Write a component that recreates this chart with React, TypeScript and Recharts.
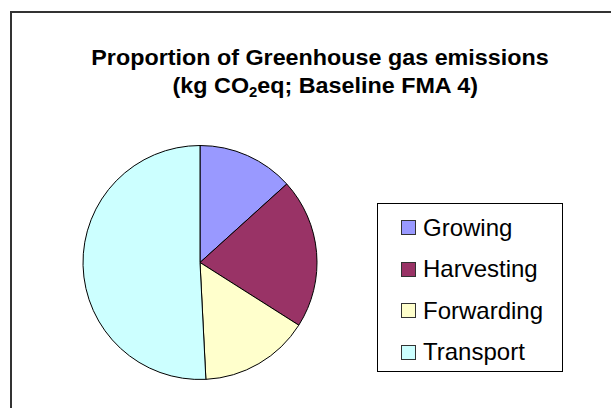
import React from 'react';
import { PieChart, Pie, Cell, Legend } from 'recharts';

const categories = ['Growing', 'Harvesting', 'Forwarding', 'Transport'];
const emissions = [13.3, 20.7, 15.2, 50.8];
const colors = ['#9999FF', '#993366', '#FFFFCC', '#CCFFFF'];

const data = categories.map((name, i) => ({ name, value: emissions[i] }));

const renderLegend = (props: any) => {
  const payload = [...(props.payload || [])].sort(
    (a: any, b: any) => categories.indexOf(a.value) - categories.indexOf(b.value)
  );
  return (
    <div
      style={{
        width: 186,
        height: 169,
        border: '1px solid #000',
        boxSizing: 'border-box',
        paddingTop: 3,
        background: '#fff',
      }}
    >
      {payload.map((entry: any) => (
        <div
          key={entry.value}
          style={{ display: 'flex', alignItems: 'center', height: 41.5, paddingLeft: 23 }}
        >
          <span
            style={{
              display: 'inline-block',
              width: 13,
              height: 13,
              background: entry.color,
              border: '1px solid #333',
              marginRight: 7,
            }}
          />
          <span style={{ fontSize: 24, color: '#000', lineHeight: '28px' }}>{entry.value}</span>
        </div>
      ))}
    </div>
  );
};

const App: React.FC = () => {
  return (
    <div
      style={{
        position: 'absolute',
        left: 0,
        top: 0,
        width: 611,
        height: 408,
        overflow: 'hidden',
        background: '#fff',
        fontFamily: '"Liberation Sans", Arial, sans-serif',
      }}
    >
      <div
        style={{
          position: 'absolute',
          left: 10,
          top: 11,
          width: 620,
          height: 420,
          borderTop: '2px solid #333',
          borderLeft: '2px solid #333',
        }}
      />
      <div
        style={{
          position: 'absolute',
          left: 20,
          width: 600,
          top: 44,
          textAlign: 'center',
          fontWeight: 'bold',
          fontSize: 22,
          lineHeight: '28px',
          color: '#000',
          transform: 'scaleX(1.06)',
          transformOrigin: '300px 0',
        }}
      >
        <div>Proportion of Greenhouse gas emissions</div>
        <div style={{ paddingLeft: 10 }}>
          (kg CO<sub style={{ fontSize: 14, verticalAlign: '-4px' }}>2</sub>eq; Baseline FMA 4)
        </div>
      </div>
      <div style={{ position: 'absolute', left: 0, top: 0 }}>
        <PieChart width={611} height={408} margin={{ top: 0, right: 0, bottom: 0, left: 0 }}>
          <Pie
            data={data}
            dataKey="value"
            nameKey="name"
            cx={200}
            cy={262.5}
            outerRadius={117}
            startAngle={90}
            endAngle={-270}
            stroke="#000"
            strokeWidth={1}
            isAnimationActive={false}
          >
            {data.map((d, i) => (
              <Cell key={d.name} fill={colors[i]} />
            ))}
          </Pie>
          <Legend
            content={renderLegend}
            layout="vertical"
            wrapperStyle={{ position: 'absolute', left: 377, top: 203, width: 186 }}
          />
        </PieChart>
      </div>
    </div>
  );
};

export default App;
